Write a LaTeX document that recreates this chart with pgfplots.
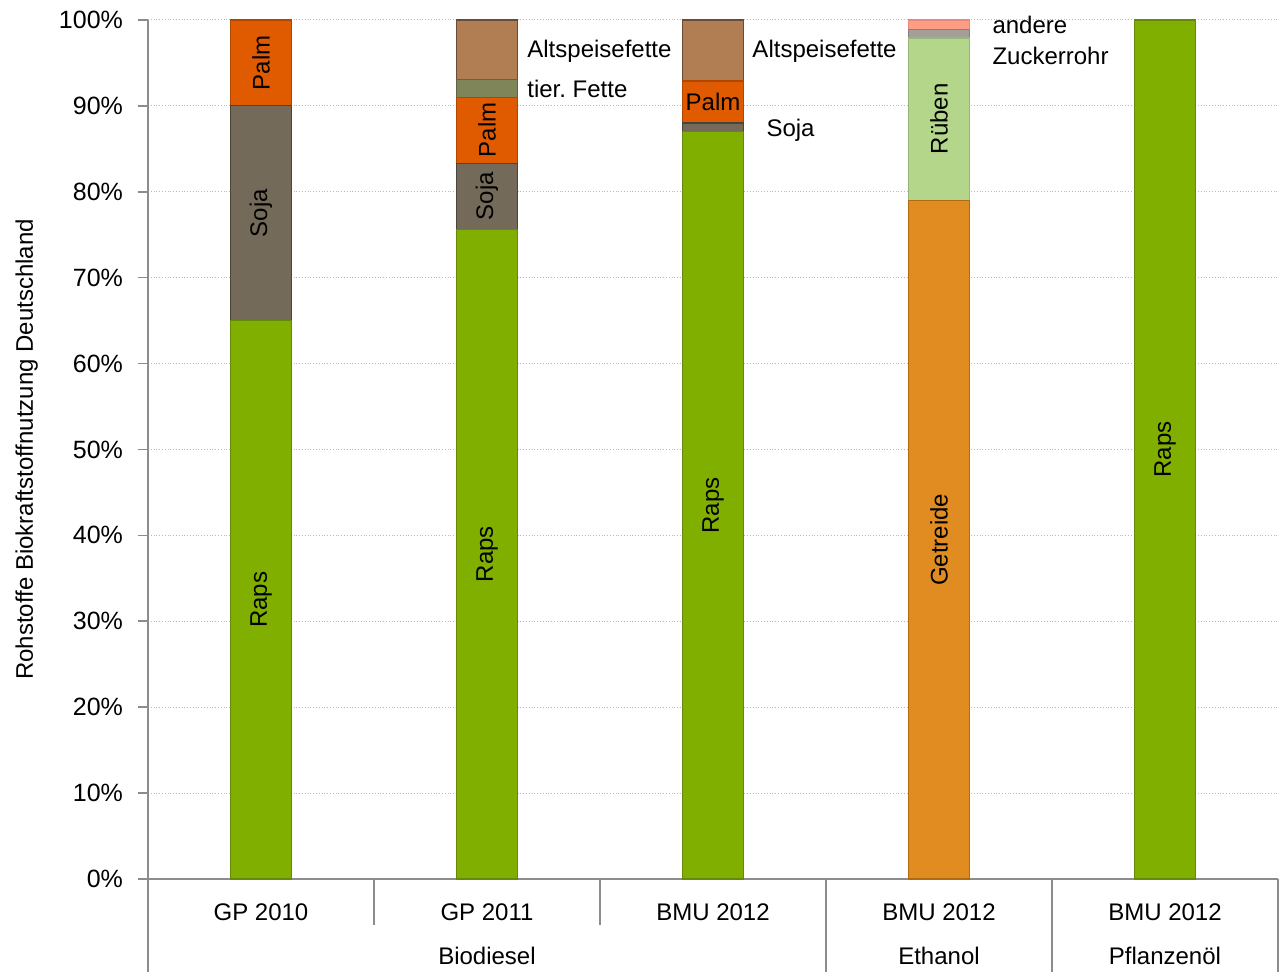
\documentclass[border=0pt]{standalone}
\usepackage{pgfplots}
\pgfplotsset{compat=1.18}
\usepackage{fontspec}
\setmainfont{Liberation Sans}

\definecolor{raps}{HTML}{80AF00}
\definecolor{rapsB}{HTML}{66890A}
\definecolor{soja}{HTML}{736A5A}
\definecolor{sojaB}{HTML}{4A443A}
\definecolor{palm}{HTML}{E05A00}
\definecolor{palmB}{HTML}{B04600}
\definecolor{tier}{HTML}{7F8459}
\definecolor{tierB}{HTML}{606443}
\definecolor{alt}{HTML}{B07E52}
\definecolor{altB}{HTML}{6A4C34}
\definecolor{getreide}{HTML}{E08C20}
\definecolor{getreideB}{HTML}{B06A10}
\definecolor{rueben}{HTML}{B4D68A}
\definecolor{ruebenB}{HTML}{98B67A}
\definecolor{zucker}{HTML}{A39E98}
\definecolor{zuckerB}{HTML}{86817B}
\definecolor{andere}{HTML}{FF9C84}
\definecolor{andereB}{HTML}{E8887A}
\definecolor{axisgray}{HTML}{8C8C8C}

% one stacked column per axis; all axes share the same frame
\pgfplotsset{
  barframe/.style={
    scale only axis, width=565pt, height=429.5pt,
    xmin=-0.5, xmax=4.5, ymin=0, ymax=100,
    ybar stacked, bar width=30.5pt, clip=false,
  },
  seg/.style 2 args={fill=#1, draw=#2, line width=0.6pt},
}

\begin{document}
\begin{tikzpicture}[font=\fontsize{12}{14}\selectfont]
% frame, grid, labels and the GP 2010 column
\begin{axis}[
  barframe,
  axis x line*=bottom, axis y line*=left,
  axis line style={axisgray, line width=0.8pt},
  xtick={0,1,2,3,4},
  xticklabels={GP 2010, GP 2011, BMU 2012, BMU 2012, BMU 2012},
  major x tick style={draw=none},
  xticklabel style={anchor=center, yshift=-11.5pt},
  ytick={0,10,...,100},
  yticklabel={\pgfmathprintnumber{\tick}\%},
  yticklabel style={anchor=east, xshift=-4pt, font=\fontsize{12.5}{14}\selectfont},
  /pgf/number format/assume math mode=true,
  tick align=outside, major tick length=5pt,
  major y tick style={axisgray, line width=0.8pt},
  ymajorgrids, grid style={densely dotted, gray!55, line width=0.5pt},
]
\addplot[seg={raps}{rapsB}] coordinates {(0,65)};
\addplot[seg={soja}{sojaB}] coordinates {(0,25)};
\addplot[seg={palm}{palmB}] coordinates {(0,10)};

% anchors for the labels inside the columns
\coordinate (rapsA) at (axis cs:0,32.5);
\coordinate (sojaA) at (axis cs:0,77.5);
\coordinate (palmA) at (axis cs:0,95);
\coordinate (rapsB) at (axis cs:1,37.8);
\coordinate (sojaB) at (axis cs:1,79.5);
\coordinate (palmB) at (axis cs:1,87.2);
\coordinate (rapsC) at (axis cs:2,43.5);
\coordinate (palmC) at (axis cs:2,90.45);
\coordinate (getrD) at (axis cs:3,39.5);
\coordinate (ruebD) at (axis cs:3,88.5);
\coordinate (rapsE) at (axis cs:4,50);

% labels beside the columns
\node[anchor=west, inner sep=0pt] at (axis cs:1.177,96.3) {Altspeisefette};
\node[anchor=west, inner sep=0pt] at (axis cs:1.177,92.0) {tier.\ Fette};
\node[anchor=west, inner sep=0pt] at (axis cs:2.173,96.4) {Altspeisefette};
\node[anchor=west, inner sep=0pt] at (axis cs:2.235,87.1) {Soja};
\node[anchor=west, inner sep=0pt] at (axis cs:3.235,99.4) {andere};
\node[anchor=west, inner sep=0pt] at (axis cs:3.235,95.8) {Zuckerrohr};

% grouped category axis
\draw[axisgray, line width=0.8pt] (axis cs:0.5,0) -- ([yshift=-23pt]axis cs:0.5,0);
\draw[axisgray, line width=0.8pt] (axis cs:1.5,0) -- ([yshift=-23pt]axis cs:1.5,0);
\draw[axisgray, line width=0.8pt] (axis cs:-0.5,0) -- ([yshift=-46.5pt]axis cs:-0.5,0);
\draw[axisgray, line width=0.8pt] (axis cs:2.5,0) -- ([yshift=-46.5pt]axis cs:2.5,0);
\draw[axisgray, line width=0.8pt] (axis cs:3.5,0) -- ([yshift=-46.5pt]axis cs:3.5,0);
\draw[axisgray, line width=0.8pt] (axis cs:4.5,0) -- ([yshift=-46.5pt]axis cs:4.5,0);
\node at ([yshift=-38.5pt]axis cs:1,0) {Biodiesel};
\node at ([yshift=-38.5pt]axis cs:3,0) {Ethanol};
\node at ([yshift=-38.5pt]axis cs:4,0) {Pflanzenöl};

\node[rotate=90] at (axis cs:-1.037,50) {Rohstoffe Biokraftstoffnutzung Deutschland};
\end{axis}

% GP 2011
\begin{axis}[barframe, hide axis]
\addplot[seg={raps}{rapsB}] coordinates {(1,75.6)};
\addplot[seg={soja}{sojaB}] coordinates {(1,7.7)};
\addplot[seg={palm}{palmB}] coordinates {(1,7.7)};
\addplot[seg={tier}{tierB}] coordinates {(1,2.1)};
\addplot[seg={alt}{altB}] coordinates {(1,6.9)};
\end{axis}

% BMU 2012, Biodiesel
\begin{axis}[barframe, hide axis]
\addplot[seg={raps}{rapsB}] coordinates {(2,87)};
\addplot[seg={soja}{sojaB}] coordinates {(2,1)};
\addplot[seg={palm}{palmB}] coordinates {(2,4.9)};
\addplot[seg={alt}{altB}] coordinates {(2,7.1)};
\end{axis}

% BMU 2012, Ethanol
\begin{axis}[barframe, hide axis]
\addplot[seg={getreide}{getreideB}] coordinates {(3,79)};
\addplot[seg={rueben}{ruebenB}] coordinates {(3,18.9)};
\addplot[seg={zucker}{zuckerB}] coordinates {(3,1.0)};
\addplot[seg={andere}{andereB}] coordinates {(3,1.1)};
\end{axis}

% BMU 2012, Pflanzenöl
\begin{axis}[barframe, hide axis]
\addplot[seg={raps}{rapsB}] coordinates {(4,100)};
\end{axis}

\node[rotate=90] at (rapsA) {Raps};
\node[rotate=90] at (sojaA) {Soja};
\node[rotate=90] at (palmA) {Palm};
\node[rotate=90] at (rapsB) {Raps};
\node[rotate=90] at (sojaB) {Soja};
\node[rotate=90] at (palmB) {Palm};
\node[rotate=90] at (rapsC) {Raps};
\node at (palmC) {Palm};
\node[rotate=90] at (getrD) {Getreide};
\node[rotate=90] at (ruebD) {Rüben};
\node[rotate=90] at (rapsE) {Raps};
\pgfresetboundingbox
\useasboundingbox (-74pt,-46.5pt) rectangle (566.5pt,439.5pt);
\end{tikzpicture}
\end{document}
